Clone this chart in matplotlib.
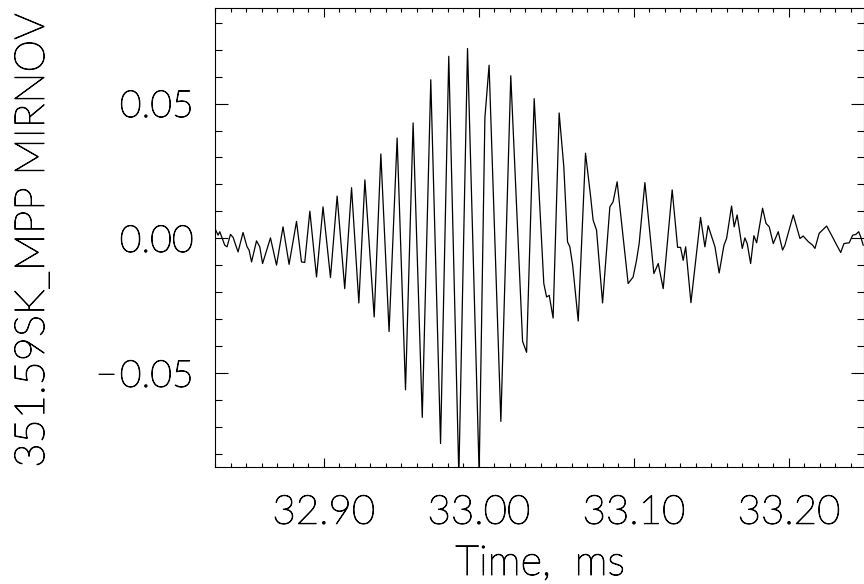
import matplotlib
matplotlib.use("Agg")
import matplotlib.pyplot as plt
import matplotlib.patheffects as pe
from matplotlib.ticker import MultipleLocator, FixedLocator, FuncFormatter

# signal (time in ms, MIRNOV signal)
time_ms = [
    32.8295, 32.8303, 32.8318, 32.8329, 32.8361, 32.8376, 32.8398, 32.8415, 32.8432, 32.8447,
    32.8479, 32.8505, 32.8518, 32.8534, 32.8566, 32.8587, 32.8605, 32.8656, 32.8695, 32.8737,
    32.8776, 32.8824, 32.8856, 32.8877, 32.8910, 32.8953, 32.8995, 32.9043, 32.9086, 32.9135,
    32.9179, 32.9226, 32.9265, 32.9325, 32.9368, 32.9421, 32.9473, 32.9527, 32.9576, 32.9635,
    32.9690, 32.9753, 32.9806, 32.9871, 32.9927, 33.0002, 33.0039, 33.0066, 33.0142, 33.0206,
    33.0282, 33.0308, 33.0357, 33.0419, 33.0437, 33.0454, 33.0479, 33.0518, 33.0548, 33.0572,
    33.0587, 33.0605, 33.0641, 33.0688, 33.0721, 33.0737, 33.0759, 33.0798, 33.0845, 33.0866,
    33.0892, 33.0963, 33.0995, 33.1017, 33.1034, 33.1071, 33.1129, 33.1157, 33.1189, 33.1247,
    33.1282, 33.1301, 33.1318, 33.1334, 33.1368, 33.1430, 33.1458, 33.1479, 33.1523, 33.1550,
    33.1581, 33.1598, 33.1630, 33.1647, 33.1666, 33.1699, 33.1716, 33.1731, 33.1753, 33.1774,
    33.1792, 33.1830, 33.1852, 33.1873, 33.1899, 33.1931, 33.1959, 33.1974, 33.2028, 33.2071,
    33.2092, 33.2125, 33.2153, 33.2168, 33.2195, 33.2243, 33.2275, 33.2303, 33.2334, 33.2355,
    33.2389, 33.2411, 33.2432, 33.2450, 33.2463, 33.2479,
]
signal = [
    0.0010, 0.0031, 0.0012, 0.0025, -0.0025, -0.0031, 0.0015, 0.0004, -0.0025, -0.0050,
    0.0022, -0.0031, -0.0043, -0.0087, -0.0009, -0.0031, -0.0093, 0.0002, -0.0099, 0.0043,
    -0.0096, 0.0063, -0.0087, -0.0089, 0.0101, -0.0143, 0.0117, -0.0145, 0.0157, -0.0186,
    0.0188, -0.0239, 0.0217, -0.0291, 0.0313, -0.0345, 0.0372, -0.0561, 0.0428, -0.0663,
    0.0588, -0.0760, 0.0675, -0.0880, 0.0704, -0.0870, 0.0447, 0.0642, -0.0678, 0.0603,
    -0.0381, -0.0422, 0.0518, -0.0167, -0.0217, -0.0211, -0.0295, 0.0465, 0.0266, -0.0013,
    -0.0031, -0.0099, -0.0306, 0.0316, 0.0155, 0.0068, 0.0031, -0.0239, 0.0117, 0.0136,
    0.0210, -0.0167, -0.0143, -0.0081, -0.0019, 0.0207, -0.0130, -0.0093, -0.0186, 0.0180,
    -0.0033, -0.0033, -0.0081, -0.0031, -0.0238, 0.0078, -0.0031, 0.0047, -0.0031, -0.0128,
    -0.0025, 0.0000, 0.0120, 0.0043, 0.0087, -0.0037, 0.0002, -0.0019, -0.0093, 0.0010,
    -0.0016, 0.0112, 0.0056, 0.0043, -0.0019, 0.0025, -0.0043, -0.0025, 0.0087, 0.0000,
    0.0009, -0.0012, -0.0025, -0.0037, 0.0019, 0.0046, 0.0012, -0.0019, -0.0052, -0.0019,
    -0.0016, 0.0012, 0.0015, 0.0025, 0.0006, -0.0025,
]

x_ticks = [32.90, 33.00, 33.10, 33.20]
y_ticks = [-0.05, 0.00, 0.05]
x_label = "Time,  ms"
y_label = "351.59SK_MPP MIRNOV"

plt.rcParams["font.family"] = ["Lato", "DejaVu Sans"]
plt.rcParams["font.weight"] = "light"
plt.rcParams["axes.labelweight"] = "light"

# thin fonts come out grey; a hairline stroke makes them black like the original
thin = [pe.withStroke(linewidth=0.7, foreground="black")]

fig = plt.figure(figsize=(8.64, 5.84), dpi=100)
ax = fig.add_axes([214.5 / 864, 1 - 467 / 584, 649 / 864, 459 / 584])

ax.plot(time_ms, signal, color="black", linewidth=0.9)

ax.set_xlim(32.8295, 33.2481)
ax.set_ylim(-0.0847, 0.0854)

ax.xaxis.set_major_locator(FixedLocator(x_ticks))
ax.xaxis.set_minor_locator(MultipleLocator(0.01))
ax.yaxis.set_major_locator(FixedLocator(y_ticks))
ax.yaxis.set_minor_locator(MultipleLocator(0.01))
ax.xaxis.set_major_formatter(FuncFormatter(lambda v, p: f"{v:.2f}"))
ax.yaxis.set_major_formatter(FuncFormatter(lambda v, p: f"{v:.2f}".replace("-", "\u2212\u200a")))

for s in ax.spines.values():
    s.set_linewidth(0.8)

ax.tick_params(axis="both", which="both", direction="in", top=True, right=True, width=0.8)
ax.tick_params(axis="x", which="major", length=6.5, pad=20, labelsize=29)
ax.tick_params(axis="x", which="minor", length=3.2)
ax.tick_params(axis="y", which="major", length=9.4, pad=15, labelsize=27)
ax.tick_params(axis="y", which="minor", length=4.7)

ax.set_xlabel(x_label, fontsize=30)
ax.xaxis.label.set_va("baseline")
ax.xaxis.set_label_coords(0.5015, -0.2353)

ax.set_ylabel(y_label, fontsize=30)
ax.yaxis.label.set_va("baseline")
ax.yaxis.set_label_coords(-0.2627, 0.494)

for t in ax.get_xticklabels() + ax.get_yticklabels() + [ax.xaxis.label, ax.yaxis.label]:
    t.set_path_effects(thin)

fig.savefig("out.png", dpi=100)
